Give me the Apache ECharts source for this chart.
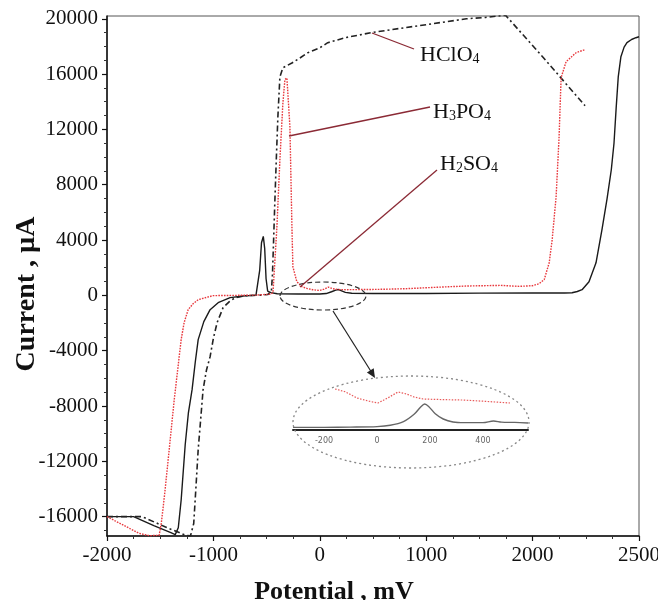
<!DOCTYPE html>
<html><head><meta charset="utf-8">
<script src="https://cdn.jsdelivr.net/npm/echarts@6/dist/echarts.min.js"></script>
<style>html,body{margin:0;padding:0;background:#fff}#c{width:658px;height:600px}</style>
</head><body><div id="c"></div>
<script>
// ---------- axis ticks ----------
const xTickValues = [-2000, -1000, 0, 1000, 2000, 3000];
const xTickLabels = ['-2000', '-1000', '0', '1000', '2000', '2500'];
const yTickValues = [-16000, -12000, -8000, -4000, 0, 4000, 8000, 12000, 16000, 20000];
const yMinorValues = [-17000,-15000,-14000,-13000,-11000,-10000,-9000,-7000,-6000,-5000,-3000,-2000,-1000,1000,2000,3000,5000,6000,7000,9000,10000,11000,13000,14000,15000,17000,18000,19000];
const insetTickValues = [-200, 0, 200, 400];

// ---------- H2SO4 (black solid) ----------
const h2so4X = [-2000,-1750,-1560,-1400,-1359,-1330,-1303,-1265,-1235,-1200,-1170,-1143,-1090,-1031,-950,-843,-700,-600,-585,-565,-548,-531,-518,-505,-490,-460,-400,-200,0,60,110,150,175,200,240,300,500,1000,1500,2000,2300,2371,2420,2465,2530,2596,2652,2700,2740,2765,2785,2805,2830,2860,2887,2930,2971,3000];
const h2so4Y = [-16000,-16000,-16650,-17150,-17300,-16800,-14800,-10800,-8500,-6800,-4800,-3200,-1900,-1034,-500,-166,-30,0,60,1800,3800,4260,3400,1200,300,200,120,100,100,130,260,380,420,350,220,150,130,140,160,170,170,190,280,410,990,2350,4750,7000,9100,11000,13500,15800,17260,17950,18270,18500,18630,18700];

// ---------- HClO4 (black dash-dot) ----------
const hclo4X = [-2000,-1680,-1640,-1450,-1260,-1215,-1200,-1185,-1165,-1143,-1120,-1097,-1065,-1031,-1000,-965,-909,-850,-797,-720,-656,-560,-490,-455,-445,-435,-422,-408,-394,-375,-347,-300,-262,-180,-112,0,75,250,487,750,1003,1200,1378,1560,1745,1760,2100,2493];
const hclo4Y = [-16000,-16000,-16100,-16750,-17350,-17380,-17300,-16500,-14000,-11157,-9000,-6820,-5400,-4430,-3100,-1970,-890,-450,-170,-50,0,20,60,300,1500,3800,6900,10000,12900,15800,16460,16650,16800,17200,17550,17900,18270,18650,19000,19300,19575,19800,20000,20100,20260,20150,17200,13710];

// ---------- H3PO4 (red dotted) ----------
const h3po4X = [-2000,-1850,-1700,-1600,-1510,-1490,-1460,-1425,-1368,-1303,-1275,-1237,-1190,-1143,-1003,-800,-600,-470,-440,-403,-375,-347,-328,-309,-300,-281,-262,-253,-216,-169,-120,-66,0,40,80,120,174,250,400,600,800,1000,1200,1400,1700,1874,2000,2062,2109,2156,2184,2221,2249,2268,2315,2409,2493];
const h3po4Y = [-16000,-16600,-17200,-17380,-17350,-16500,-14500,-11880,-7540,-3200,-1970,-1030,-600,-310,-20,0,20,80,190,4970,9800,13900,15600,15720,15600,12200,4970,2070,990,630,500,410,350,450,600,480,420,410,420,440,480,550,620,680,720,650,700,846,1135,2357,4027,7140,11475,15741,16898,17549,17766];

// ---------- inset (zoom of -300..570 mV) ----------
const insetBlackX = [-317,-200,-100,0,50,100,140,165,180,195,220,250,287,330,400,440,470,520,570];
const insetBlackY = [0,0,5,15,40,110,250,390,446,400,260,160,103,90,90,122,100,95,84];
const insetRedX = [-158,-120,-75,-30,4,40,79,110,140,174,250,325,400,460,502];
const insetRedY = [733,680,560,500,465,560,675,640,580,542,530,522,500,480,465];

const SERIF = "'Liberation Serif','Times New Roman',serif";
const zip = (xs, ys) => xs.map((x, i) => [x, ys[i]]);

const chart = echarts.init(document.getElementById('c'), null, {renderer: 'canvas'});

const richSub = {
  m: {fontFamily: SERIF, fontSize: 22, fill: '#111', lineHeight: 26, verticalAlign: 'bottom'},
  s: {fontFamily: SERIF, fontSize: 14, fill: '#111', lineHeight: 20, verticalAlign: 'bottom'}
};

const option = {
  animation: false,
  backgroundColor: '#fff',
  grid: [
    {left: 107, right: 19, top: 16, bottom: 64, show: true, borderColor: '#555', borderWidth: 1, outerBoundsMode: 'none', containLabel: false},
    {left: 293, width: 235, top: 375, height: 55, show: false, outerBoundsMode: 'none', containLabel: false}
  ],
  xAxis: [
    {
      type: 'value', gridIndex: 0, min: -2000, max: 3000, interval: 1000, position: 'bottom',
      axisLine: {show: true, onZero: false, lineStyle: {color: '#111', width: 1.5}},
      axisTick: {show: true, length: 5, lineStyle: {color: '#111', width: 1.2}},
      minorTick: {show: true, splitNumber: 4, length: 3, lineStyle: {color: '#333', width: 1}},
      splitLine: {show: false},
      axisLabel: {
        margin: 9, fontFamily: SERIF, fontSize: 21, color: '#111',
        formatter: v => { const i = xTickValues.indexOf(v); return i >= 0 ? xTickLabels[i] : ''; }
      }
    },
    {
      type: 'value', gridIndex: 1, min: -317, max: 570, position: 'bottom',
      axisLine: {show: true, onZero: false, lineStyle: {color: '#222', width: 2}},
      axisTick: {show: false},
      splitLine: {show: false},
      axisLabel: {customValues: insetTickValues, margin: 7, fontFamily: "'DejaVu Sans',sans-serif", fontSize: 8, color: '#666',
                  formatter: v => String(v)}
    }
  ],
  yAxis: [
    {
      type: 'value', gridIndex: 0, min: -17400, max: 20200, position: 'left',
      axisLine: {show: true, onZero: false, lineStyle: {color: '#111', width: 1.5}},
      axisTick: {show: true, customValues: yTickValues, length: 5, lineStyle: {color: '#111', width: 1.2}},
      splitLine: {show: false},
      axisLabel: {customValues: yTickValues, margin: 9, fontFamily: SERIF, fontSize: 21, color: '#111',
                  formatter: v => String(v)}
    },
    {
      type: 'value', gridIndex: 0, min: -17400, max: 20200, position: 'left',
      axisLine: {show: false, onZero: false},
      axisTick: {show: true, customValues: yMinorValues, length: 3, lineStyle: {color: '#333', width: 1}},
      splitLine: {show: false},
      axisLabel: {show: false}
    },
    {
      type: 'value', gridIndex: 1, min: -50, max: 1000, show: false
    }
  ],
  series: [
    {name: 'H2SO4', type: 'line', xAxisIndex: 0, yAxisIndex: 0, showSymbol: false, data: zip(h2so4X, h2so4Y),
     lineStyle: {color: '#1a1a1a', width: 1.4}, z: 2},
    {name: 'HClO4', type: 'line', xAxisIndex: 0, yAxisIndex: 0, showSymbol: false, data: zip(hclo4X, hclo4Y),
     lineStyle: {color: '#222', width: 1.6, type: [6, 3, 2, 3]}, z: 3},
    {name: 'H3PO4', type: 'line', xAxisIndex: 0, yAxisIndex: 0, showSymbol: false, data: zip(h3po4X, h3po4Y),
     lineStyle: {color: '#e8383d', width: 1.4, type: [1.6, 1.2]}, z: 4},
    {name: 'H2SO4 inset', type: 'line', xAxisIndex: 1, yAxisIndex: 2, showSymbol: false, smooth: 0.3, data: zip(insetBlackX, insetBlackY),
     lineStyle: {color: '#666', width: 1.4}, z: 5},
    {name: 'H3PO4 inset', type: 'line', xAxisIndex: 1, yAxisIndex: 2, showSymbol: false, data: zip(insetRedX, insetRedY),
     lineStyle: {color: '#e85a5a', width: 1.2, type: [1.5, 1.5]}, z: 5}
  ],
  graphic: [
    {type: 'ellipse', shape: {cx: 323, cy: 296, rx: 43, ry: 14}, z: 10,
     style: {fill: 'none', stroke: '#333', lineWidth: 1.2, lineDash: [5, 3]}},
    {type: 'line', shape: {x1: 333, y1: 311, x2: 372, y2: 373}, z: 10, style: {stroke: '#222', lineWidth: 1.2}},
    {type: 'polygon', shape: {points: [[375, 378], [366.9, 372.4], [373.7, 368.2]]}, z: 10, style: {fill: '#222'}},
    {type: 'ellipse', shape: {cx: 411, cy: 422, rx: 118, ry: 46}, z: 10,
     style: {fill: 'none', stroke: '#888', lineWidth: 1.3, lineDash: [2, 3]}},
    {type: 'line', shape: {x1: 372, y1: 33, x2: 414, y2: 49}, z: 10, style: {stroke: '#8b2a35', lineWidth: 1.3}},
    {type: 'line', shape: {x1: 289, y1: 136, x2: 430, y2: 107}, z: 10, style: {stroke: '#8b2a35', lineWidth: 1.3}},
    {type: 'line', shape: {x1: 300, y1: 287, x2: 437, y2: 170}, z: 10, style: {stroke: '#8b2a35', lineWidth: 1.3}},
    {type: 'text', x: 420, y: 53, z: 11, style: {text: '{m|HClO}{s|4}', verticalAlign: 'middle', align: 'left', rich: richSub}},
    {type: 'text', x: 433, y: 110, z: 11, style: {text: '{m|H}{s|3}{m|PO}{s|4}', verticalAlign: 'middle', align: 'left', rich: richSub}},
    {type: 'text', x: 440, y: 162, z: 11, style: {text: '{m|H}{s|2}{m|SO}{s|4}', verticalAlign: 'middle', align: 'left', rich: richSub}},
    {type: 'text', x: 27, y: 294, rotation: Math.PI / 2, z: 11, style: {
      text: 'Current , µA', fontFamily: SERIF, fontSize: 28, fontWeight: 'bold', fill: '#111', align: 'center', verticalAlign: 'middle'}},
    {type: 'text', x: 334, y: 592, z: 11, style: {
      text: 'Potential , mV', fontFamily: SERIF, fontSize: 26, fontWeight: 'bold', fill: '#111', align: 'center', verticalAlign: 'middle'}}
  ]
};
chart.setOption(option);
</script></body></html>
